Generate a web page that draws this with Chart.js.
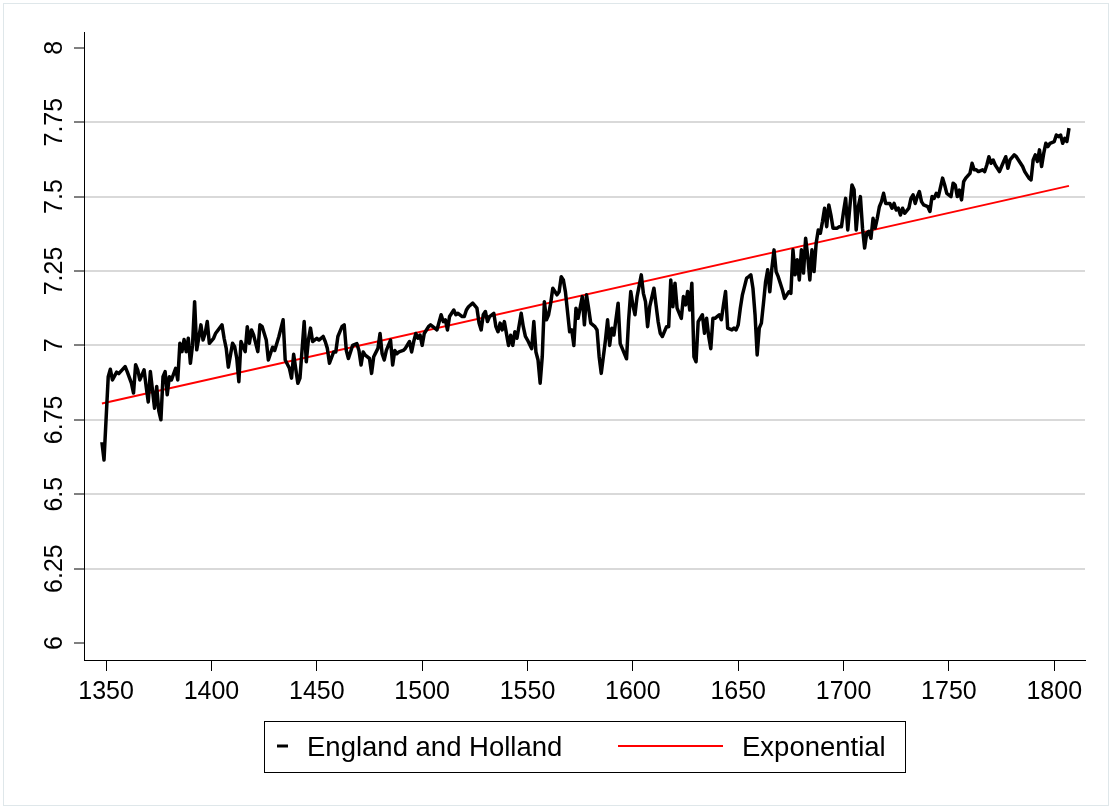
<!DOCTYPE html>
<html>
<head>
<meta charset="utf-8">
<script src="https://cdn.jsdelivr.net/npm/chart.js@4"></script>
<style>
  html, body { margin: 0; padding: 0; background: #fff; }
  #wrap { width: 1112px; height: 809px; }
</style>
</head>
<body>
<div id="wrap"><canvas id="chart" width="1112" height="809"></canvas></div>
<script>
// series (log scale values)
const years = [
  1348,1349,1351,1352,1353,1355,1356,1359,1360,1362,1363,1364,1365,1366,1368,1369,1370,1371,1372,1373,
  1374,1375,1376,1377,1378,1379,1380,1381,1383,1384,1385,1386,1387,1388,1389,1390,1391,1392,1393,1395,
  1396,1397,1398,1399,1401,1402,1405,1406,1407,1408,1410,1411,1412,1413,1414,1416,1417,1418,1419,1420,
  1422,1423,1424,1426,1427,1429,1430,1432,1434,1435,1437,1438,1439,1441,1442,1444,1445,1446,1447,1448,
  1450,1451,1453,1454,1455,1456,1458,1459,1460,1462,1463,1464,1465,1466,1467,1469,1470,1471,1472,1473,
  1475,1476,1477,1479,1480,1481,1482,1483,1485,1486,1487,1488,1489,1491,1492,1494,1495,1496,1497,1498,
  1499,1500,1501,1503,1504,1506,1507,1509,1510,1511,1512,1513,1515,1516,1517,1519,1520,1521,1522,1524,
  1526,1527,1528,1529,1530,1531,1532,1534,1535,1536,1537,1538,1539,1541,1542,1543,1544,1545,1547,1548,
  1549,1550,1552,1553,1554,1555,1556,1557,1558,1559,1560,1561,1562,1564,1565,1566,1567,1568,1570,1571,
  1572,1573,1574,1576,1577,1578,1579,1580,1582,1583,1584,1585,1587,1588,1589,1590,1591,1593,1594,1595,
  1597,1598,1599,1600,1601,1602,1604,1605,1606,1607,1608,1610,1611,1612,1613,1614,1616,1617,1618,1619,
  1620,1621,1623,1624,1625,1626,1627,1628,1629,1630,1631,1633,1634,1635,1636,1637,1638,1639,1641,1642,
  1643,1644,1645,1647,1648,1649,1650,1651,1652,1654,1655,1656,1657,1658,1659,1660,1661,1662,1663,1664,
  1665,1666,1667,1668,1669,1671,1672,1674,1675,1676,1677,1678,1679,1680,1681,1682,1683,1684,1685,1686,
  1687,1688,1689,1690,1691,1692,1693,1694,1695,1697,1698,1699,1700,1701,1702,1703,1704,1705,1706,1707,
  1708,1709,1710,1711,1712,1713,1714,1715,1716,1717,1718,1719,1720,1722,1723,1724,1725,1726,1727,1728,
  1729,1731,1732,1733,1734,1735,1736,1737,1738,1740,1741,1742,1743,1744,1745,1747,1748,1749,1751,1752,
  1753,1754,1755,1756,1757,1758,1760,1761,1762,1763,1764,1766,1767,1768,1769,1770,1771,1772,1773,1774,
  1775,1776,1777,1778,1779,1781,1782,1783,1784,1785,1786,1788,1789,1790,1791,1792,1793,1794,1795,1796,
  1797,1798,1800,1801,1802,1803,1804,1805,1806,1807
];
const values = [
  6.675,6.615,6.895,6.920,6.884,6.910,6.905,6.929,6.912,6.873,6.840,6.935,6.918,6.884,6.918,6.862,6.810,6.912,6.850,6.789,
  6.862,6.780,6.750,6.895,6.912,6.834,6.895,6.884,6.923,6.884,7.007,6.979,7.020,6.979,7.024,6.940,7.000,7.147,6.985,7.069,
  7.018,7.041,7.080,7.007,7.024,7.041,7.069,7.024,6.990,6.927,7.007,6.996,6.957,6.878,7.013,6.979,7.063,7.007,7.052,7.035,
  6.979,7.069,7.064,7.018,6.951,6.994,6.983,7.030,7.086,6.951,6.923,6.890,6.970,6.873,6.890,7.080,6.945,7.018,7.058,7.013,
  7.024,7.018,7.030,7.013,6.990,6.940,6.978,6.978,7.030,7.064,7.069,6.983,6.956,6.978,7.000,7.006,6.983,6.934,6.978,6.967,
  6.956,6.906,6.962,6.990,7.040,6.972,6.951,6.983,7.018,6.934,6.983,6.972,6.978,6.983,6.990,7.013,6.978,7.013,7.040,7.024,
  7.035,7.000,7.040,7.063,7.069,7.058,7.052,7.103,7.080,7.086,7.052,7.097,7.119,7.103,7.108,7.097,7.097,7.119,7.130,7.142,
  7.125,7.075,7.052,7.103,7.114,7.080,7.097,7.108,7.063,7.046,7.075,7.052,7.080,7.000,7.034,7.000,7.046,7.024,7.108,7.063,
  7.030,7.018,6.989,7.080,6.978,6.951,6.873,6.962,7.147,7.086,7.103,7.142,7.192,7.170,7.180,7.231,7.220,7.180,7.046,7.052,
  7.000,7.125,7.091,7.164,7.069,7.170,7.125,7.075,7.063,7.052,6.962,6.906,7.018,7.086,7.000,7.058,7.035,7.142,7.006,6.989,
  6.955,7.086,7.181,7.136,7.103,7.164,7.237,7.175,7.147,7.063,7.130,7.192,7.136,7.080,7.041,7.030,7.063,7.063,7.220,7.130,
  7.209,7.125,7.091,7.164,7.136,7.181,7.119,7.209,6.962,6.945,7.080,7.103,7.041,7.091,7.030,6.989,7.091,7.091,7.103,7.086,
  7.136,7.181,7.058,7.052,7.058,7.052,7.069,7.125,7.170,7.226,7.231,7.237,7.192,7.103,6.968,7.058,7.075,7.142,7.214,7.254,
  7.180,7.260,7.321,7.248,7.231,7.186,7.158,7.180,7.175,7.321,7.237,7.288,7.220,7.321,7.243,7.360,7.299,7.220,7.321,7.248,
  7.343,7.388,7.377,7.416,7.461,7.399,7.472,7.438,7.394,7.394,7.399,7.399,7.450,7.494,7.388,7.466,7.539,7.523,7.388,7.466,
  7.500,7.394,7.327,7.377,7.383,7.360,7.427,7.394,7.427,7.466,7.483,7.511,7.477,7.477,7.461,7.477,7.455,7.461,7.438,7.461,
  7.444,7.461,7.494,7.506,7.477,7.500,7.517,7.483,7.472,7.466,7.450,7.500,7.494,7.511,7.500,7.562,7.539,7.511,7.500,7.545,
  7.539,7.500,7.522,7.489,7.550,7.562,7.578,7.612,7.590,7.590,7.584,7.590,7.584,7.606,7.634,7.612,7.623,7.606,7.595,7.584,
  7.601,7.618,7.634,7.595,7.623,7.640,7.634,7.623,7.612,7.601,7.584,7.562,7.556,7.623,7.640,7.618,7.657,7.601,7.645,7.679,
  7.668,7.679,7.685,7.707,7.701,7.707,7.679,7.696,7.685,7.730
];

// exponential trend (straight in logs)
const trendYears = [1348, 1807];
const trendValues = [6.805, 7.536];

const yTicks = [6, 6.25, 6.5, 6.75, 7, 7.25, 7.5, 7.75, 8];
const xTicks = [1350, 1400, 1450, 1500, 1550, 1600, 1650, 1700, 1750, 1800];

const FONT = '"Liberation Sans", Arial, Helvetica, sans-serif';

const frameAndLabels = {
  id: 'frameAndLabels',
  afterDraw(chart) {
    const ctx = chart.ctx;
    const y = chart.scales.y;
    ctx.save();
    // outer faint frame
    ctx.strokeStyle = '#dfe7ea';
    ctx.lineWidth = 1;
    ctx.strokeRect(3.5, 3.5, 1105, 802);

    // rotated y labels
    ctx.fillStyle = '#000';
    ctx.font = '25px ' + FONT;
    ctx.textAlign = 'center';
    ctx.textBaseline = 'alphabetic';
    yTicks.forEach(v => {
      ctx.save();
      ctx.translate(62, y.getPixelForValue(v));
      ctx.rotate(-Math.PI / 2);
      ctx.fillText(String(v), 0, 0);
      ctx.restore();
    });

    // legend box
    const ds = chart.data.datasets;
    ctx.strokeStyle = '#000';
    ctx.lineWidth = 1;
    ctx.strokeRect(264.5, 721.5, 641, 51);
    ctx.font = '27.5px ' + FONT;
    ctx.textAlign = 'left';
    ctx.lineCap = 'butt';
    ctx.strokeStyle = ds[0].borderColor;
    ctx.lineWidth = 3;
    ctx.beginPath(); ctx.moveTo(277, 746); ctx.lineTo(288, 746); ctx.stroke();
    ctx.fillText(ds[0].label, 307, 756);
    ctx.strokeStyle = ds[1].borderColor;
    ctx.lineWidth = 2;
    ctx.beginPath(); ctx.moveTo(618, 746); ctx.lineTo(723, 746); ctx.stroke();
    ctx.fillText(ds[1].label, 742, 756);
    ctx.restore();
  }
};

new Chart(document.getElementById('chart'), {
  type: 'line',
  data: {
    datasets: [{
      label: 'England and Holland',
      data: years.map((yr, i) => ({ x: yr, y: values[i] })),
      borderColor: '#000000',
      borderWidth: 3.5,
      pointRadius: 0,
      tension: 0,
      borderJoinStyle: 'round'
    }, {
      label: 'Exponential',
      data: trendYears.map((yr, i) => ({ x: yr, y: trendValues[i] })),
      borderColor: '#ff0000',
      borderWidth: 2,
      pointRadius: 0,
      tension: 0
    }]
  },
  options: {
    responsive: false,
    animation: false,
    events: [],
    layout: { padding: { top: 32, right: 27, bottom: 0, left: 0 } },
    plugins: {
      legend: { display: false },
      tooltip: { enabled: false }
    },
    scales: {
      x: {
        type: 'linear',
        min: 1339.5,
        max: 1814.6,
        afterBuildTicks: s => { s.ticks = xTicks.map(v => ({ value: v })); },
        afterFit: s => { s.height = 149; },
        ticks: {
          color: '#000',
          font: { family: FONT, size: 25 },
          padding: 6,
          maxRotation: 0,
          callback: v => String(v)
        },
        grid: { drawOnChartArea: false, tickLength: 11, color: '#000', lineWidth: 1 },
        border: { color: '#000', width: 1 }
      },
      y: {
        min: 5.943,
        max: 8.053,
        afterBuildTicks: s => { s.ticks = yTicks.map(v => ({ value: v })); },
        afterFit: s => { s.width = 84; },
        ticks: { display: false },
        grid: {
          color: c => (c.tick && (c.tick.value === 6 || c.tick.value === 8)) ? 'rgba(0,0,0,0)' : '#d9d9d9',
          lineWidth: 2,
          tickLength: 10,
          tickColor: '#000',
          tickWidth: 1
        },
        border: { color: '#000', width: 1 }
      }
    }
  },
  plugins: [frameAndLabels]
});
</script>
</body>
</html>
